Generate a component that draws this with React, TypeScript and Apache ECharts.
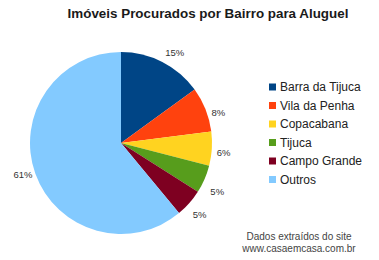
import React, { useEffect, useRef } from "react";
import * as echarts from "echarts";

const categories = ["Barra da Tijuca", "Vila da Penha", "Copacabana", "Tijuca", "Campo Grande", "Outros"];
const values = [15, 8, 6, 5, 5, 61];
const colors = ["#004586", "#ff420e", "#ffd320", "#579d1c", "#7e0021", "#83caff"];
const titleText = "Imóveis Procurados por Bairro para Aluguel";
const footLines = ["Dados extraídos do site", "www.casaemcasa.com.br"];

// label nudges (style only)
const labelDx = [0, 2, 1, 2, 0, 1];
const labelDy = [-8, 4, 4, 12, 10, 0];

export default function App() {
  const ref = useRef<HTMLDivElement>(null);
  useEffect(() => {
    const chart = echarts.init(ref.current!, null, { renderer: "svg" });
    chart.setOption({
      animation: false,
      backgroundColor: "#ffffff",
      title: {
        text: titleText,
        left: 203,
        textAlign: "center",
        top: 2,
        textStyle: { fontFamily: "Liberation Sans", fontSize: 13.4, fontWeight: "bold", color: "#1a1a1a" },
      },
      legend: {
        orient: "vertical",
        left: 269,
        top: 80,
        padding: 0,
        icon: "rect",
        itemWidth: 7,
        itemHeight: 7,
        itemGap: 4.5,
        data: categories,
        textStyle: { fontFamily: "Liberation Sans", fontSize: 12, color: "#222", padding: [0, 0, 0, -1], lineHeight: 14 },
      },
      graphic: footLines.map((t, i) => ({
        type: "text",
        x: 299,
        y: 236 + i * 12,
        style: { text: t, fill: "#444", font: "10px 'Liberation Sans'", textAlign: "center", textVerticalAlign: "middle" },
      })),
      series: [
        {
          type: "pie",
          center: [121, 143],
          radius: 91,
          startAngle: 90,
          clockwise: true,
          avoidLabelOverlap: false,
          data: categories.map((c, i) => ({
            name: c,
            value: values[i],
            itemStyle: { color: colors[i] },
          })),
          label: {
            show: true,
            position: "outside",
            formatter: "{d}%",
            fontFamily: "Liberation Sans",
            fontSize: 9.5,
            color: "#333",
            overflow: "none",
            distanceToLabelLine: 2,
          },
          labelLayout: (p: any) => ({ dx: labelDx[p.dataIndex], dy: labelDy[p.dataIndex] }),
          labelLine: { show: false, length: 2, length2: 0 },
          emphasis: { disabled: true },
        },
      ],
    });
    return () => chart.dispose();
  }, []);
  return <div ref={ref} style={{ width: 379, height: 260, position: "absolute", left: 0, top: 0 }} />;
}
